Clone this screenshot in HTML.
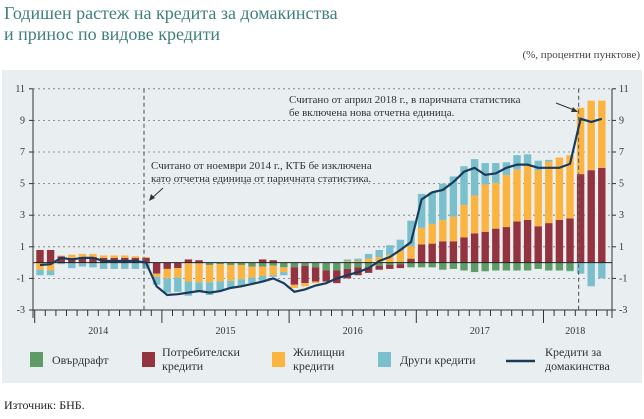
<!DOCTYPE html>
<html><head><meta charset="utf-8"><style>
body{margin:0;background:#fff;width:644px;height:414px;overflow:hidden;font-family:"Liberation Serif","DejaVu Serif",serif}
svg text{font-family:"Liberation Serif","DejaVu Serif",serif}
</style></head><body>
<svg width="644" height="414" xmlns="http://www.w3.org/2000/svg">
<text x="4" y="19" font-size="18" fill="#3f7f7c">Годишен растеж на кредита за домакинства</text>
<text x="4" y="40" font-size="18" fill="#3f7f7c">и принос по видове кредити</text>
<text x="640" y="58" font-size="11" fill="#444" text-anchor="end">(%, процентни пунктове)</text>
<rect x="2" y="70" width="640" height="313" fill="#e9eef0"/>
<g id="grid"></g><g id="bars"></g><g id="axes"></g><g id="line"></g>
<g>
<text x="151" y="169" font-size="11" fill="#333">Считано от ноември 2014 г., КТБ бе изключена</text>
<text x="151" y="182" font-size="11" fill="#333">като отчетна единица от паричната статистика.</text>
<line x1="163" y1="188" x2="151" y2="199" stroke="#333" stroke-width="1"/>
<polygon points="149,201 151,194 155,198" fill="#333"/>
</g>
<g>
<text x="289" y="103" font-size="11" fill="#333">Считано от април 2018 г., в паричната статистика</text>
<text x="289" y="116" font-size="11" fill="#333">бе включена нова отчетна единица.</text>
<line x1="556" y1="103" x2="574" y2="110" stroke="#333" stroke-width="1"/>
<polygon points="578,112 571,112 573,107" fill="#333"/>
</g>
<g>
<rect x="30" y="352" width="13" height="15" fill="#5e9c67"/>
<text x="52" y="364" font-size="12" fill="#333">Овърдрафт</text>
<rect x="142" y="352" width="13" height="15" fill="#93333f"/>
<text x="162" y="356" font-size="12" fill="#333">Потребителски<tspan x="162" dy="14">кредити</tspan></text>
<rect x="272" y="352" width="13" height="15" fill="#fbb440"/>
<text x="293" y="356" font-size="12" fill="#333">Жилищни<tspan x="293" dy="14">кредити</tspan></text>
<rect x="378" y="352" width="13" height="15" fill="#79bfcc"/>
<text x="400" y="364" font-size="12" fill="#333">Други кредити</text>
<line x1="506" y1="361" x2="535" y2="361" stroke="#1b3a5c" stroke-width="2.5"/>
<text x="545" y="356" font-size="12" fill="#333">Кредити за<tspan x="545" dy="14">домакинства</tspan></text>
</g>
<text x="4" y="409" font-size="12" fill="#222">Източник: БНБ.</text>
</svg>
<script>
const overdraft=[0,0,0,0,0,0,0,0,0,0,0,0, 0,0,0,-0.05,-0.15,-0.1,-0.15,-0.15,-0.25,-0.25,-0.2,-0.3, -0.3,-0.2,-0.3,-0.5,-0.5,-0.4,-0.3,-0.3,-0.2,-0.15,-0.1,-0.3, -0.3,-0.3,-0.45,-0.4,-0.5,-0.6,-0.55,-0.5,-0.5,-0.5,-0.5,-0.4, -0.5,-0.5,-0.5,0,0,0];
const consumer=[0.8,0.8,0.4,0.3,0.35,0.35,0.3,0.3,0.3,0.3,0.3,-0.7, -0.4,-0.35,0.2,0.15,0,0,0,0,0,0.2,0.15,0, -1.1,-1.1,-0.9,-0.7,-0.8,-0.6,-0.5,-0.35,-0.25,-0.25,-0.25,0.25, 1.15,1.2,1.35,1.35,1.6,1.85,1.95,2.15,2.25,2.6,2.7,2.3, 2.5,2.7,2.8,5.6,5.85,6.0];
const housing=[-0.45,-0.5,0.05,0.2,0.2,0.2,0.15,0.15,0.15,0.1,0.05,-0.2, -0.6,-0.6,-1.2,-1.2,-1.1,-1.1,-1.0,-0.9,-0.7,-0.6,-0.6,-0.3, -0.2,-0.2,-0.1,0,0,0.1,0.1,0.25,0.35,0.5,0.75,0.8, 1.05,1.25,1.35,1.55,2.05,2.4,3.0,2.9,3.3,3.3,3.45,3.55, 3.9,3.95,4.0,4.2,4.4,4.25];
const other=[-0.35,-0.3,-0.1,-0.35,-0.25,-0.3,-0.4,-0.4,-0.4,-0.4,-0.4,-0.5, -0.9,-0.9,-0.9,-0.6,-0.8,-0.6,-0.5,-0.4,-0.35,-0.3,-0.1,-0.2, 0,0,0,0,0,0.1,0.15,0.3,0.45,0.6,0.7,1.6, 2.15,2.0,2.3,2.55,2.45,2.3,1.35,1.25,0.8,0.9,0.7,0.6, 0.1,0,-0.05,-0.7,-1.5,-1.0];
const total=[-0.15,-0.1,0.3,0.2,0.3,0.3,0.1,0.1,0.1,0.1,0.0,-1.5, -2.05,-2.0,-1.9,-1.8,-1.9,-1.8,-1.6,-1.5,-1.35,-1.2,-1.0,-1.3, -1.85,-1.7,-1.45,-1.3,-1.0,-0.8,-0.6,-0.35,0.1,0.35,0.8,1.3, 4.0,4.45,4.6,5.1,5.75,6.0,5.55,5.65,6.0,6.2,6.2,6.0, 6.0,6.0,6.25,9.1,8.9,9.1];
const yTicks=[11,9,7,5,3,1,-1,-3];
const years=["2014","2015","2016","2017","2018"];
const NS="http://www.w3.org/2000/svg";
const y=v=>262.6-15.8*v, x=i=>40+10.6*i;
const L=33,R=612;
function mk(t,a,p){const e=document.createElementNS(NS,t);for(const k in a)e.setAttribute(k,a[k]);document.getElementById(p).appendChild(e);return e;}
yTicks.forEach(v=>{
 if(v>-3){const g=mk('line',{x1:L,x2:R,y1:y(v),y2:y(v),stroke:'#777','stroke-width':0.8,'stroke-dasharray':'2,3'},'grid');
 
 }
 const t1=mk('text',{x:25,y:y(v)+3,'font-size':10,fill:'#333','text-anchor':'end'},'axes');t1.textContent=v;
 
 
 const t2=mk('text',{x:619,y:y(v)+3,'font-size':10,fill:'#333'},'axes');t2.textContent=v;
 
 
 mk('line',{x1:L-4,x2:L,y1:y(v),y2:y(v),stroke:'#333'},'axes');
 mk('line',{x1:R,x2:R+4,y1:y(v),y2:y(v),stroke:'#333'},'axes');
});
const cols={o:'#5e9c67',c:'#93333f',h:'#fbb440',t:'#79bfcc'};
total.forEach((_,i)=>{
 let pos=0,neg=0;
 [['o',overdraft[i]],['c',consumer[i]],['h',housing[i]],['t',other[i]]].forEach(([k,v])=>{
  if(!v)return;let a,b;
  if(v>0){a=pos;b=pos+v;pos=b;}else{a=neg;b=neg+v;neg=b;}
  const r=mk('rect',{x:x(i)-3.7,width:7.4,y:y(Math.max(a,b)),height:Math.abs(y(a)-y(b)),fill:cols[k]},'bars');
  
  
 });
});
const z=mk('line',{x1:L,x2:R,y1:y(0),y2:y(0),stroke:'#222','stroke-width':1},'axes');


mk('line',{x1:L,x2:L,y1:y(11),y2:y(-3)+8,stroke:'#333'},'axes');
mk('line',{x1:R,x2:R,y1:y(11),y2:y(-3)+8,stroke:'#333'},'axes');
const xa=mk('line',{x1:L,x2:R,y1:y(-3),y2:y(-3),stroke:'#333'},'axes');


for(let i=0;i<=total.length;i++){const xx=x(i)-5.3;const maj=i%12==0;
 mk('line',{x1:xx,x2:xx,y1:y(-3),y2:y(-3)+(maj?13:6),stroke:'#333'},'axes');}
years.forEach((yr,k)=>{const n=Math.min(12,total.length-12*k);
 const t=mk('text',{x:x(12*k)-5.3+n*10.6/2,y:334,'font-size':10,fill:'#333','text-anchor':'middle'},'axes');t.textContent=yr;
 
 });
[10,51].forEach(i=>{const d=mk('line',{x1:x(i)-2,x2:x(i)-2,y1:y(11),y2:y(-3),stroke:'#666','stroke-width':1.2,'stroke-dasharray':'4,3'},'axes');
 
 });
const p=mk('polyline',{points:total.map((v,i)=>x(i)+','+y(v)).join(' '),fill:'none',stroke:'#1b3a5c','stroke-width':2.2},'line');


</script>
</body></html>
